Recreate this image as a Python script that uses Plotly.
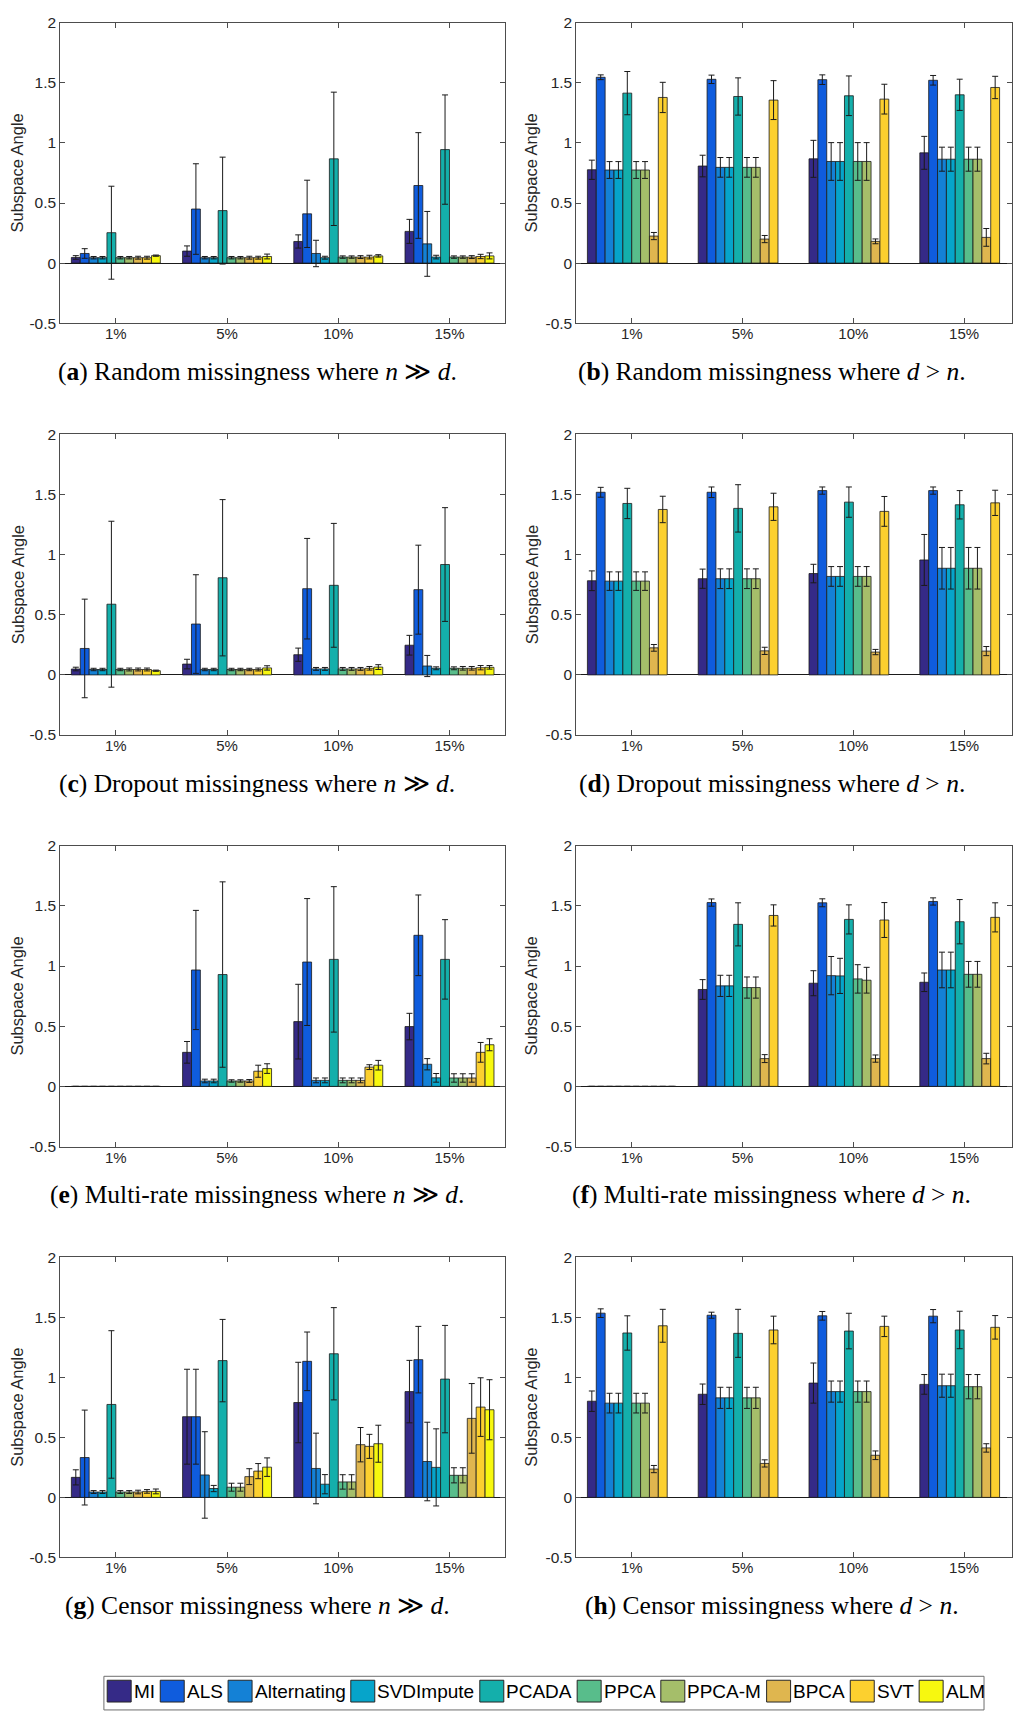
import plotly.graph_objects as go

# ---------------- data ----------------
methods = ["MI", "ALS", "Alternating", "SVDImpute", "PCADA", "PPCA", "PPCA-M", "BPCA", "SVT", "ALM"]
colors = ["#352a87", "#0f5cdd", "#1481d6", "#06a4ca", "#14afab",
          "#58bd8b", "#a5be6a", "#dfb64f", "#fcd02f", "#f7f80f"]
rates = ["1%", "5%", "10%", "15%"]
y_tickvals = [-0.5, 0, 0.5, 1, 1.5, 2]
y_ticktext = ["-0.5", "0", "0.5", "1", "1.5", "2"]
N = None

# each array: one row per method (order of `methods`), one column per rate
# (a) Random missingness, n >> d
a_mean = [[0.047, 0.10, 0.18, 0.264], [0.08, 0.45, 0.41, 0.646], [0.045, 0.045, 0.08, 0.16],
          [0.045, 0.045, 0.045, 0.05], [0.253, 0.437, 0.868, 0.945], [0.045, 0.045, 0.05, 0.05],
          [0.045, 0.045, 0.05, 0.05], [0.045, 0.045, 0.05, 0.05], [0.045, 0.045, 0.05, 0.055],
          [0.062, 0.055, 0.06, 0.06]]
a_err = [[0.015, 0.043, 0.055, 0.10], [0.04, 0.377, 0.28, 0.44], [0.01, 0.01, 0.11, 0.27],
         [0.01, 0.01, 0.012, 0.015], [0.387, 0.445, 0.555, 0.455], [0.01, 0.01, 0.01, 0.01],
         [0.01, 0.01, 0.01, 0.01], [0.012, 0.012, 0.012, 0.012], [0.012, 0.012, 0.015, 0.018],
         [0.005, 0.02, 0.01, 0.025]]
# (b) Random missingness, d > n
b_mean = [[0.777, 0.808, 0.868, 0.918], [1.547, 1.53, 1.527, 1.522], [0.775, 0.797, 0.846, 0.865],
          [0.775, 0.797, 0.846, 0.865], [1.415, 1.387, 1.393, 1.401], [0.775, 0.797, 0.846, 0.865],
          [0.775, 0.797, 0.846, 0.865], [0.225, 0.2, 0.181, 0.214], [1.379, 1.357, 1.365, 1.462],
          [N, N, N, N]]
b_err = [[0.08, 0.09, 0.154, 0.137], [0.02, 0.035, 0.04, 0.04], [0.07, 0.082, 0.157, 0.1],
         [0.07, 0.082, 0.157, 0.1], [0.18, 0.155, 0.165, 0.13], [0.07, 0.082, 0.157, 0.1],
         [0.07, 0.082, 0.157, 0.1], [0.03, 0.03, 0.02, 0.074], [0.126, 0.162, 0.124, 0.093],
         [N, N, N, N]]
# (c) Dropout missingness, n >> d
c_mean = [[0.049, 0.09, 0.168, 0.247], [0.22, 0.423, 0.717, 0.709], [0.045, 0.045, 0.05, 0.074],
          [0.045, 0.045, 0.05, 0.055], [0.588, 0.808, 0.745, 0.918], [0.045, 0.045, 0.05, 0.055],
          [0.045, 0.045, 0.05, 0.055], [0.045, 0.045, 0.05, 0.055], [0.045, 0.045, 0.055, 0.06],
          [0.035, 0.058, 0.065, 0.063]]
c_err = [[0.015, 0.04, 0.055, 0.082], [0.41, 0.41, 0.418, 0.37], [0.01, 0.01, 0.012, 0.088],
         [0.01, 0.01, 0.012, 0.012], [0.69, 0.65, 0.515, 0.473], [0.01, 0.01, 0.012, 0.012],
         [0.012, 0.01, 0.012, 0.015], [0.012, 0.01, 0.012, 0.015], [0.012, 0.012, 0.015, 0.018],
         [0.005, 0.018, 0.02, 0.015]]
# (d) Dropout missingness, d > n
d_mean = [[0.783, 0.8, 0.843, 0.956], [1.519, 1.519, 1.533, 1.533], [0.78, 0.8, 0.819, 0.887],
          [0.78, 0.8, 0.819, 0.887], [1.426, 1.385, 1.437, 1.415], [0.78, 0.8, 0.819, 0.887],
          [0.78, 0.8, 0.819, 0.887], [0.225, 0.2, 0.19, 0.198], [1.376, 1.398, 1.36, 1.431],
          [N, N, N, N]]
d_err = [[0.082, 0.08, 0.077, 0.212], [0.041, 0.044, 0.03, 0.03], [0.077, 0.082, 0.082, 0.173],
         [0.077, 0.082, 0.082, 0.173], [0.126, 0.197, 0.126, 0.118], [0.077, 0.082, 0.082, 0.173],
         [0.077, 0.082, 0.082, 0.173], [0.028, 0.03, 0.022, 0.038], [0.11, 0.113, 0.124, 0.105],
         [N, N, N, N]]
# (e) Multi-rate missingness, n >> d
e_mean = [[0, 0.283, 0.538, 0.497], [0, 0.967, 1.033, 1.255], [0, 0.045, 0.05, 0.184],
          [0, 0.045, 0.05, 0.071], [0, 0.929, 1.055, 1.055], [0, 0.045, 0.05, 0.07],
          [0, 0.045, 0.05, 0.07], [0, 0.045, 0.05, 0.07], [0, 0.126, 0.16, 0.283],
          [0, 0.148, 0.176, 0.346]]
e_err = [[0, 0.09, 0.31, 0.11], [0, 0.495, 0.527, 0.335], [0, 0.015, 0.02, 0.047],
         [0, 0.015, 0.02, 0.036], [0, 0.77, 0.604, 0.33], [0, 0.01, 0.02, 0.035],
         [0, 0.01, 0.02, 0.035], [0, 0.012, 0.02, 0.035], [0, 0.05, 0.02, 0.082],
         [0, 0.04, 0.04, 0.05]]
# (f) Multi-rate missingness, d > n
f_mean = [[0, 0.805, 0.857, 0.865], [0, 1.527, 1.525, 1.536], [0, 0.835, 0.92, 0.967],
          [0, 0.835, 0.918, 0.967], [0, 1.346, 1.387, 1.368], [0, 0.821, 0.893, 0.931],
          [0, 0.821, 0.882, 0.931], [0, 0.231, 0.231, 0.231], [0, 1.42, 1.382, 1.404],
          [0, N, N, N]]
f_err = [[0, 0.082, 0.104, 0.077], [0, 0.03, 0.033, 0.03], [0, 0.088, 0.159, 0.148],
         [0, 0.088, 0.146, 0.148], [0, 0.179, 0.121, 0.184], [0, 0.088, 0.118, 0.107],
         [0, 0.088, 0.107, 0.107], [0, 0.033, 0.03, 0.044], [0, 0.088, 0.145, 0.121],
         [0, N, N, N]]
# (g) Censor missingness, n >> d
g_mean = [[0.167, 0.672, 0.79, 0.881], [0.332, 0.672, 1.133, 1.147], [0.045, 0.187, 0.241, 0.299],
          [0.045, 0.074, 0.11, 0.25], [0.774, 1.139, 1.196, 0.985], [0.045, 0.085, 0.129, 0.184],
          [0.045, 0.085, 0.129, 0.184], [0.045, 0.173, 0.439, 0.658], [0.05, 0.219, 0.425, 0.752],
          [0.05, 0.252, 0.447, 0.73]]
g_err = [[0.063, 0.395, 0.335, 0.26], [0.395, 0.395, 0.244, 0.277], [0.012, 0.36, 0.294, 0.327],
         [0.012, 0.026, 0.08, 0.321], [0.614, 0.343, 0.384, 0.447], [0.012, 0.033, 0.06, 0.063],
         [0.012, 0.033, 0.06, 0.063], [0.015, 0.066, 0.143, 0.29], [0.015, 0.063, 0.1, 0.244],
         [0.02, 0.077, 0.154, 0.25]]
# (h) Censor missingness, d > n
h_mean = [[0.801, 0.859, 0.952, 0.941], [1.534, 1.517, 1.512, 1.509], [0.785, 0.829, 0.881, 0.93],
          [0.785, 0.829, 0.881, 0.93], [1.369, 1.366, 1.385, 1.394], [0.785, 0.829, 0.881, 0.922],
          [0.785, 0.829, 0.881, 0.922], [0.236, 0.283, 0.351, 0.412], [1.429, 1.394, 1.424, 1.416],
          [N, N, N, N]]
h_err = [[0.085, 0.085, 0.167, 0.082], [0.036, 0.025, 0.036, 0.055], [0.082, 0.088, 0.088, 0.096],
         [0.082, 0.088, 0.088, 0.096], [0.143, 0.2, 0.148, 0.156], [0.082, 0.088, 0.088, 0.101],
         [0.082, 0.088, 0.088, 0.101], [0.03, 0.03, 0.036, 0.035], [0.137, 0.115, 0.085, 0.098],
         [N, N, N, N]]

captions = [
    "(<b>a</b>) Random missingness where <i>n</i> \u226b <i>d</i>.",
    "(<b>b</b>) Random missingness where <i>d</i> > <i>n</i>.",
    "(<b>c</b>) Dropout missingness where <i>n</i> \u226b <i>d</i>.",
    "(<b>d</b>) Dropout missingness where <i>d</i> > <i>n</i>.",
    "(<b>e</b>) Multi-rate missingness where <i>n</i> \u226b <i>d</i>.",
    "(<b>f</b>) Multi-rate missingness where <i>d</i> > <i>n</i>.",
    "(<b>g</b>) Censor missingness where <i>n</i> \u226b <i>d</i>.",
    "(<b>h</b>) Censor missingness where <i>d</i> > <i>n</i>.",
]
panels = [(a_mean, a_err), (b_mean, b_err), (c_mean, c_err), (d_mean, d_err),
          (e_mean, e_err), (f_mean, f_err), (g_mean, g_err), (h_mean, h_err)]

# ---------------- layout geometry (pixels) ----------------
W, H = 1013, 1713
row_top = [14, 429.7, 845, 1260.7]
row_bot = [317.3, 733.3, 1149, 1564]
cap_y = [366, 782, 1197, 1613]
col_left = [60.3, 576.9]
col_right = [505.6, 1013]
col_xrange = [[-0.5, 3.5], [-0.5, 3.432]]
cap_x = [257.5, 772.5]
ytitle_x = [17.5, 532]

def px(x):
    return x / W

def py(y):
    return 1 - y / H

AX = "#4d4d4d"
TXT = "#262626"
SANS = "Liberation Sans, Arial, Helvetica, sans-serif"
SERIF = "Liberation Serif, Times New Roman, serif"

fig = go.Figure()
layout = dict(
    width=W, height=H, margin=dict(l=0, r=0, t=0, b=0),
    paper_bgcolor="white", plot_bgcolor="white",
    barmode="group", bargap=0.2, bargroupgap=0.0,
    showlegend=False, font=dict(family=SANS, color=TXT),
)
annotations = []
shapes = []

for p, (mean, err) in enumerate(panels):
    r, c = divmod(p, 2)
    sfx = "" if p == 0 else str(p + 1)
    for m in range(len(methods)):
        fig.add_trace(go.Bar(
            x=rates, y=mean[m], name=methods[m],
            marker=dict(color=colors[m], line=dict(color="#1a1a1a", width=0.8)),
            error_y=dict(type="data", array=err[m], visible=True,
                         color="#1a1a1a", thickness=1, width=3),
            xaxis="x" + sfx, yaxis="y" + sfx, showlegend=False,
        ))
    layout["xaxis" + sfx] = dict(
        domain=[px(col_left[c]), px(col_right[c])], anchor="y" + sfx,
        type="category", range=col_xrange[c], showgrid=False, zeroline=False,
        showline=True, mirror="allticks", linecolor=AX, linewidth=1,
        ticks="inside", ticklen=5, tickcolor=AX, tickwidth=1, ticklabelstandoff=-3,
        tickfont=dict(family=SANS, size=15, color=TXT),
    )
    layout["yaxis" + sfx] = dict(
        domain=[py(row_bot[r]), py(row_top[r])], anchor="x" + sfx,
        range=[-0.5, 2], tickvals=y_tickvals, ticktext=y_ticktext,
        showgrid=False, zeroline=True, zerolinecolor="#1a1a1a", zerolinewidth=1,
        showline=True, mirror="allticks", linecolor=AX, linewidth=1,
        ticks="inside", ticklen=5, tickcolor=AX, tickwidth=1,
        tickfont=dict(family=SANS, size=15.5, color=TXT),
    )
    annotations.append(dict(
        text="Subspace Angle", textangle=-90, xref="paper", yref="paper",
        x=px(ytitle_x[c]), y=py((row_top[r] + row_bot[r]) / 2),
        xanchor="center", yanchor="middle", showarrow=False,
        font=dict(family=SANS, size=16.5, color=TXT),
    ))
    annotations.append(dict(
        text=captions[p], xref="paper", yref="paper",
        x=px(cap_x[c]), y=py(cap_y[r]), xanchor="center", yanchor="middle",
        showarrow=False, font=dict(family=SERIF, size=25.5, color="black"),
    ))

# ---------------- legend (drawn box) ----------------
arial_w = {"M": .833, "I": .278, "A": .667, "L": .556, "S": .667, "l": .222, "t": .278,
           "e": .556, "r": .333, "n": .556, "a": .556, "i": .222, "g": .556, "V": .667,
           "D": .722, "m": .833, "p": .556, "u": .556, "P": .667, "C": .722, "-": .333,
           "B": .667, "T": .611}
LEG_FS = 19
leg_left, leg_right, leg_top = 104, 985, 1684
sw_w, sw_top, sw_bot = 24, 1688, 1710
shapes.append(dict(type="rect", xref="paper", yref="paper",
                   x0=px(leg_left), x1=px(leg_right), y0=py(H + 5), y1=py(leg_top),
                   line=dict(color="#6e6e6e", width=1), fillcolor="white", layer="above"))
xcur = leg_left + 3.3
for m, name in enumerate(methods):
    tw = sum(arial_w.get(ch, 0.55) for ch in name) * LEG_FS
    shapes.append(dict(type="rect", xref="paper", yref="paper",
                       x0=px(xcur), x1=px(xcur + sw_w), y0=py(sw_bot), y1=py(sw_top),
                       line=dict(color="#262626", width=1), fillcolor=colors[m], layer="above"))
    annotations.append(dict(text=name, xref="paper", yref="paper",
                            x=px(xcur + sw_w + 1.5), y=py((sw_top + sw_bot) / 2),
                            xanchor="left", yanchor="middle", showarrow=False, borderpad=0,
                            font=dict(family=SANS, size=LEG_FS, color="black")))
    xcur += sw_w + 2.5 + tw + 5.5

layout["annotations"] = annotations
layout["shapes"] = shapes
fig.update_layout(**layout)
fig.write_html("out.html")
